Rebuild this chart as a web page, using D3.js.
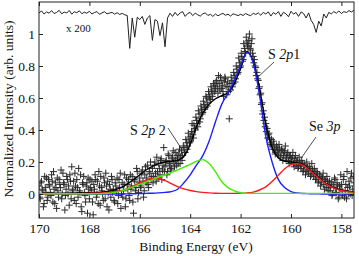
<!DOCTYPE html>
<html>
<head>
<meta charset="utf-8">
<script src="https://cdn.jsdelivr.net/npm/d3@7"></script>
<style>
  body { margin: 0; background: #fff; }
  svg text { font-family: 'Liberation Serif', 'DejaVu Serif', serif; fill: #111; }
</style>
</head>
<body>
<script>
// binding energy grid for the fit curves (eV, 0.25 step)
const fitEnergy = d3.range(0, 51).map(i => 170 - i * 0.25);

const blueFit = [0,0,0,0,0,0,0,0,0,0,0,0,0,0,0.001,0.002,0.003,0.004,0.005,0.007,
  0.01,0.015,0.03,0.07,0.12,0.18,0.24,0.33,0.45,0.56,0.63,0.71,0.8,0.885,0.82,0.62,
  0.36,0.2,0.09,0.04,0.015,0.006,0.003,0.002,0.001,0,0,0,0,0,0];

const greenFit = [0.002,0.002,0.002,0.002,0.002,0.002,0.002,0.002,0.002,0.002,0.002,
  0.005,0.01,0.018,0.03,0.045,0.06,0.075,0.09,0.105,0.12,0.135,0.15,0.168,0.185,0.205,
  0.215,0.19,0.14,0.078,0.04,0.02,0.008,0.004,0.004,0.004,0.004,0.004,0.004,0.004,
  0.004,0.004,0.004,0.004,0.004,0.004,0.004,0.004,0.004,0.004,0.004];

const redFit = [0,0,0,0.001,0.001,0.002,0.002,0.003,0.004,0.005,0.007,0.01,0.014,0.02,
  0.032,0.05,0.07,0.087,0.097,0.095,0.083,0.065,0.046,0.032,0.022,0.015,0.01,0.007,
  0.005,0.004,0.004,0.004,0.005,0.007,0.012,0.025,0.045,0.078,0.118,0.158,0.184,0.19,
  0.177,0.145,0.112,0.08,0.052,0.034,0.022,0.014,0.01];

const envelopeFit = [0.004,0.004,0.004,0.005,0.005,0.006,0.006,0.007,0.008,0.009,0.012,
  0.017,0.025,0.04,0.062,0.09,0.12,0.15,0.172,0.19,0.2,0.205,0.21,0.235,0.31,0.42,
  0.505,0.56,0.595,0.615,0.635,0.69,0.785,0.89,0.83,0.66,0.44,0.29,0.225,0.205,0.2,
  0.196,0.18,0.148,0.115,0.083,0.055,0.037,0.026,0.018,0.013];

// measured points, scan A: 0.05 eV step from 170 eV
const scanA = [
  0.05,-0.03,0.08,0.02,-0.06,0.04,0.10,-0.02,0.06,0.01,
  0.12,-0.05,0.03,0.07,-0.09,0.02,0.09,0.04,-0.03,0.13,
  0.06,-0.01,0.11,0.00,-0.07,0.08,0.17,0.03,-0.04,0.05,
  0.09,-0.02,0.02,0.12,-0.11,0.06,0.01,-0.05,0.07,0.10,
  -0.03,0.04,0.08,-0.13,0.03,0.09,0.00,-0.06,0.05,0.11,
  0.02,-0.04,0.07,0.13,-0.08,0.01,0.06,-0.02,0.09,0.03,
  -0.05,0.05,0.10,-0.01,0.04,-0.09,0.07,0.02,0.12,-0.03,
  0.06,0.09,-0.04,0.03,0.11,-0.12,0.08,0.04,0.14,0.01,
  0.10,0.05,0.15,-0.02,0.12,0.07,0.18,0.04,0.13,0.09,
  0.16,0.11,0.20,0.08,0.14,0.19,0.12,0.22,0.15,0.29,
  0.17,0.21,0.14,0.24,0.19,0.16,0.23,0.20,0.26,0.18,
  0.22,0.25,0.19,0.27,0.24,0.29,0.26,0.32,0.30,0.35,
  0.33,0.39,0.37,0.43,0.40,0.46,0.42,0.50,0.47,0.53,
  0.51,0.56,0.54,0.60,0.57,0.62,0.59,0.65,0.63,0.68,
  0.66,0.71,0.63,0.69,0.73,0.66,0.64,0.70,0.72,0.62,
  0.67,0.47,0.65,0.71,0.69,0.74,0.72,0.78,0.76,0.82,
  0.80,0.86,0.84,0.91,0.88,0.95,0.92,1.00,0.90,0.97,
  0.86,0.84,0.79,0.76,0.71,0.67,0.63,0.57,0.52,0.48,
  0.44,0.41,0.37,0.35,0.32,0.30,0.33,0.28,0.26,0.29,
  0.25,0.28,0.23,0.27,0.24,0.26,0.22,0.25,0.21,0.24,
  0.20,0.23,0.19,0.22,0.18,0.21,0.17,0.20,0.16,0.19,
  0.15,0.18,0.14,0.17,0.13,0.16,0.12,0.15,0.11,0.14,
  0.10,0.13,0.08,0.11,0.07,0.10,0.06,0.09,0.04,0.08,
  0.05,0.02,0.07,0.00,0.04,0.09,0.01,0.05,-0.02,0.03,
  0.06,-0.01,0.11,0.02,-0.03,0.04,0.08,0.00,0.13,0.03,0.07
];

// scan B: 0.05 eV step from 169.975 eV
const scanB = [
  -0.02,0.07,0.03,-0.08,0.11,0.01,-0.04,0.09,0.05,-0.01,
  0.08,0.14,-0.06,0.04,0.10,-0.02,0.06,0.15,0.00,0.07,
  -0.10,0.03,0.09,0.05,0.12,-0.03,0.02,0.08,0.13,-0.06,
  0.04,0.16,0.01,-0.08,0.07,0.11,-0.01,0.05,-0.12,0.03,
  0.09,0.02,-0.05,0.06,0.12,-0.02,0.08,0.14,-0.07,0.04,
  0.00,0.10,-0.03,0.05,0.08,-0.10,0.03,0.11,0.01,-0.04,
  0.07,0.02,-0.06,0.09,0.13,0.00,-0.02,0.06,-0.08,0.10,
  0.03,-0.01,0.12,0.05,-0.05,0.09,0.02,0.16,-0.03,0.07,
  0.04,0.13,0.08,0.02,0.17,0.10,0.06,0.14,0.20,0.11,
  0.07,0.18,0.13,0.23,0.10,0.16,0.21,0.09,0.18,0.14,
  0.20,0.12,0.25,0.18,0.15,0.22,0.27,0.17,0.21,0.24,
  0.19,0.28,0.23,0.21,0.30,0.26,0.34,0.28,0.38,0.32,
  0.36,0.44,0.35,0.41,0.48,0.44,0.52,0.45,0.55,0.50,
  0.58,0.53,0.61,0.55,0.64,0.60,0.67,0.61,0.69,0.64,
  0.70,0.67,0.74,0.65,0.71,0.68,0.61,0.73,0.67,0.70,
  0.64,0.69,0.73,0.67,0.76,0.70,0.80,0.75,0.85,0.79,
  0.88,0.83,0.94,0.89,0.98,0.93,0.96,0.91,0.94,0.88,
  0.82,0.80,0.74,0.72,0.66,0.62,0.56,0.50,0.46,0.42,
  0.39,0.35,0.38,0.31,0.34,0.28,0.31,0.25,0.30,0.27,
  0.31,0.24,0.28,0.21,0.27,0.30,0.23,0.26,0.19,0.24,
  0.22,0.26,0.17,0.24,0.20,0.16,0.23,0.18,0.21,0.14,
  0.18,0.12,0.20,0.15,0.17,0.11,0.19,0.13,0.16,0.09,
  0.14,0.07,0.12,0.05,0.10,0.13,0.03,0.08,0.11,0.02,
  0.08,0.04,-0.01,0.06,0.10,0.01,0.07,-0.03,0.05,0.12,
  0.02,0.09,-0.02,0.06,0.14,0.00,0.05,0.10,-0.01,0.11
];

// residual x 200, 0.1 eV step from 170 eV, drawn about the 1.12 level
const residual = [
  0.012,0.024,0.005,0.018,0.01,0.026,0.008,0.015,0.028,0.006,
  0.017,0.011,0.027,0.004,0.019,0.013,0.025,0.007,0.016,0.01,
  0.022,0.005,0.014,0.02,0.003,0.012,0.019,0.006,0.011,0.015,
  0.004,0.013,0.002,0.009,0.0,-0.004,-0.21,-0.02,-0.14,-0.015,
  -0.03,-0.01,-0.06,-0.02,-0.005,-0.16,-0.03,-0.04,-0.13,-0.05,
  -0.2,-0.02,0.01,-0.01,0.015,-0.005,0.012,0.02,-0.01,0.008,
  0.015,-0.005,0.01,0.0,-0.008,0.006,0.012,-0.004,0.003,-0.01,
  0.005,-0.006,0.002,0.009,-0.003,0.004,-0.008,0.006,0.001,-0.005,
  0.003,-0.004,0.008,0.0,-0.006,0.01,0.002,0.012,-0.003,0.015,
  0.005,0.018,-0.008,0.014,0.003,0.02,-0.01,0.016,0.006,-0.012,
  0.022,0.004,0.015,-0.01,0.018,0.008,-0.02,0.012,-0.035,-0.06,
  -0.11,-0.04,-0.07,0.005,-0.02,0.015,0.006,0.02,0.01,0.024,
  0.008,0.02,0.014,0.026,0.018,0.028
];
const residualLevel = 1.12;

const xTicks = [170, 168, 166, 164, 162, 160, 158];
const yTicks = [0, 0.2, 0.4, 0.6, 0.8, 1];

const W = 359, H = 256;
const margin = { top: 2, right: 5, bottom: 38, left: 39 };
const width = W - margin.left - margin.right,
      height = H - margin.top - margin.bottom;

const svg = d3.select("body").append("svg")
    .attr("width", W)
    .attr("height", H);

const g = svg.append("g")
    .attr("transform", "translate(" + margin.left + "," + margin.top + ")");

const x = d3.scaleLinear().domain([170, 157.5]).range([0, width]);
const y = d3.scaleLinear().domain([-0.15, 1.2]).range([height, 0]);

g.append("clipPath").attr("id", "plotclip")
  .append("rect").attr("width", width).attr("height", height);

const plot = g.append("g").attr("clip-path", "url(#plotclip)");

// measured points as "+" markers
const pts = scanA.map((v, i) => [170 - i * 0.05, v])
    .concat(scanB.map((v, i) => [169.975 - i * 0.05, v]));

plot.selectAll(".pt")
    .data(pts)
    .enter().append("path")
    .attr("class", "pt")
    .attr("transform", d => "translate(" + x(d[0]) + "," + y(d[1]) + ")")
    .attr("d", "M-3.5,0H3.5M0,-3.5V3.5")
    .attr("stroke", "#2a2a2a")
    .attr("stroke-width", 1)
    .attr("fill", "none");

// residual trace
const resLine = d3.line()
    .x((d, i) => x(170 - i * 0.1))
    .y(d => y(residualLevel + d));
plot.append("path")
    .attr("d", resLine(residual))
    .attr("fill", "none")
    .attr("stroke", "#222")
    .attr("stroke-width", 1);

const fitLine = d3.line()
    .x((d, i) => x(fitEnergy[i]))
    .y(d => y(d))
    .curve(d3.curveMonotoneX);

const fits = [
  { values: envelopeFit, color: "#000" },
  { values: blueFit, color: "#1f1fff" },
  { values: redFit, color: "#ff1a1a" },
  { values: greenFit, color: "#44ee00" }
];
fits.forEach(f => {
  plot.append("path")
      .attr("d", fitLine(f.values))
      .attr("fill", "none")
      .attr("stroke", f.color)
      .attr("stroke-width", 1.4);
});

// axes, ticks pointing inward on all four sides
const fmt = d => String(+d.toFixed(1));

g.append("g")
    .attr("transform", "translate(0," + height + ")")
    .call(d3.axisBottom(x).tickValues(xTicks).tickSizeInner(-4).tickSizeOuter(0).tickPadding(5));
g.append("g")
    .call(d3.axisTop(x).tickValues(xTicks).tickSizeInner(-4).tickSizeOuter(0).tickFormat(""));
g.append("g")
    .call(d3.axisLeft(y).tickValues(yTicks).tickSizeInner(-4).tickSizeOuter(0).tickPadding(4).tickFormat(fmt));
g.append("g")
    .attr("transform", "translate(" + width + ",0)")
    .call(d3.axisRight(y).tickValues(yTicks).tickSizeInner(-4).tickSizeOuter(0).tickFormat(""));

g.selectAll(".domain").remove();
g.selectAll(".tick line").attr("stroke", "#222");
g.selectAll(".tick text")
    .attr("font-size", 13.5)
    .attr("fill", "#111");

g.append("rect")
    .attr("width", width)
    .attr("height", height)
    .attr("fill", "none")
    .attr("stroke", "#222")
    .attr("stroke-width", 1);

// axis titles
svg.append("text")
    .attr("x", 196)
    .attr("y", 251)
    .attr("text-anchor", "middle")
    .attr("font-size", 13.5)
    .text("Binding Energy (eV)");

svg.append("text")
    .attr("transform", "translate(13,109) rotate(-90)")
    .attr("text-anchor", "middle")
    .attr("font-size", 13.5)
    .text("Normalized Intensity (arb. units)");

// annotations
svg.append("text").attr("x", 66).attr("y", 32).attr("font-size", 11).text("x 200");

function label(px, py, parts) {
  const t = svg.append("text").attr("x", px).attr("y", py).attr("font-size", 14);
  parts.forEach(p => {
    t.append("tspan").attr("font-style", p[1] ? "italic" : "normal").text(p[0]);
  });
}
label(268, 59, [["S ", false], ["2p", true], ["1", false]]);
label(130, 135, [["S ", false], ["2p", true], [" 2", false]]);
label(309, 131, [["Se ", false], ["3p", true]]);

const leaders = [
  [257, 78, 274, 62],
  [168, 128, 181, 148],
  [316, 137, 302, 157]
];
svg.selectAll(".leader")
    .data(leaders)
    .enter().append("line")
    .attr("x1", d => d[0]).attr("y1", d => d[1])
    .attr("x2", d => d[2]).attr("y2", d => d[3])
    .attr("stroke", "#222")
    .attr("stroke-width", 0.8);
</script>
</body>
</html>
